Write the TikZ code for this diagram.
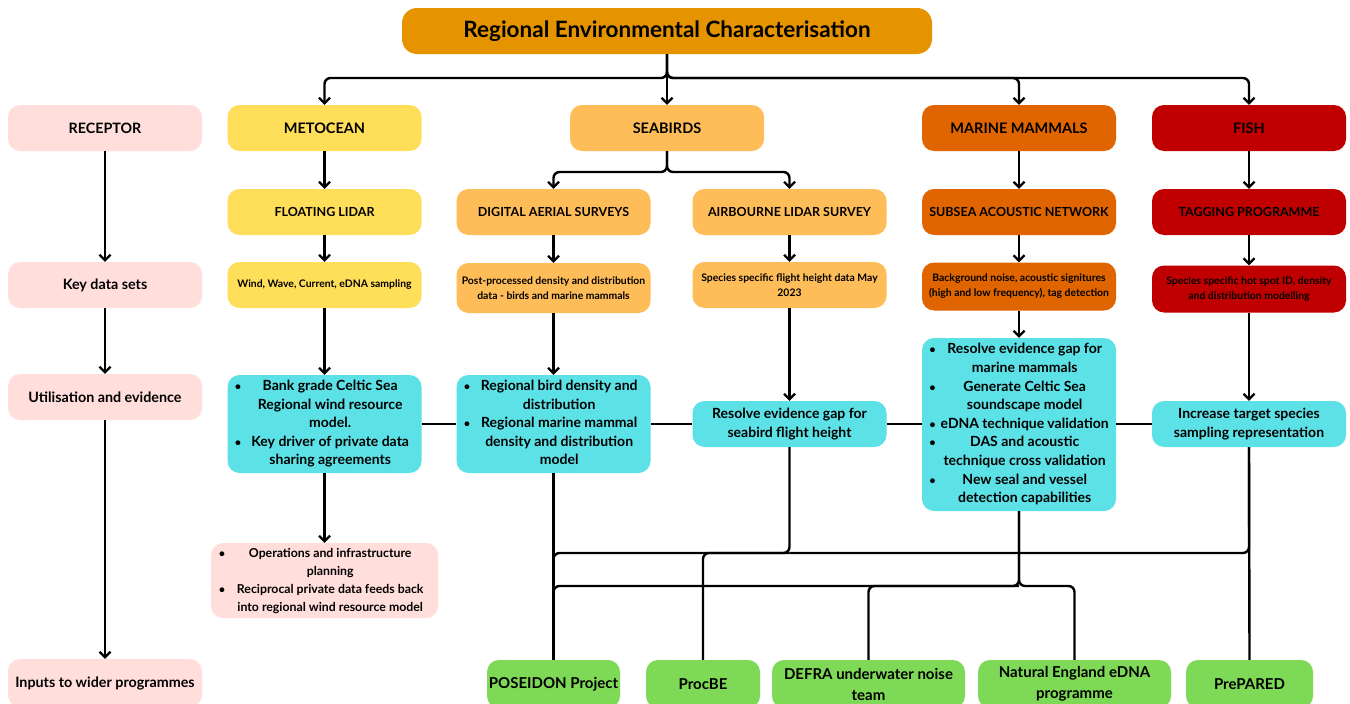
\documentclass[tikz,border=0pt]{standalone}
\usepackage{fontspec}
\setmainfont{Lato}
\usepackage{array}
\usetikzlibrary{arrows.meta}

\definecolor{titlec}{HTML}{E59400}
\definecolor{pinkc}{HTML}{FFDEDB}
\definecolor{metc}{HTML}{FFDE59}
\definecolor{birdc}{HTML}{FFBD59}
\definecolor{mamc}{HTML}{E06500}
\definecolor{fishc}{HTML}{C00000}
\definecolor{cyanc}{HTML}{5CE1E6}
\definecolor{greenc}{HTML}{7ED957}

% bullet list: bullet column, gap, centred text column
\newenvironment{blist}[2]{\begin{tabular}{@{}l@{\hspace{#1}}>{\centering\arraybackslash}p{#2}@{}}}{\end{tabular}}
\newcommand{\bdot}{{\fontsize{11}{11}\selectfont\textbullet}}

\begin{document}
\begin{tikzpicture}[x=1pt,y=-1pt,
  box/.style={rounded corners=12pt, minimum width=194pt, minimum height=46pt,
    align=center, inner sep=1pt, text=black},
  cat/.style={box, font=\bfseries\fontsize{14.5}{17}\selectfont},
  sub/.style={box, font=\bfseries\fontsize{12.5}{15}\selectfont},
  data/.style={box, font=\bfseries\fontsize{10.4}{15}\selectfont},
  use/.style={box, fill=cyanc, font=\bfseries\fontsize{14}{18.6}\selectfont},
  recv/.style={box, fill=pinkc, font=\bfseries\fontsize{14.3}{17}\selectfont},
  prog/.style={box, fill=greenc, minimum height=48pt, font=\bfseries\fontsize{15}{21}\selectfont},
  conn/.style={line width=2.4pt, rounded corners=6pt},
  arr/.style={conn, -{Straight Barb[length=5.5pt,width=11pt,line width=2.2pt]}}]

\useasboundingbox (0,0) rectangle (1350,704);
\fill[white] (0,0) rectangle (1350,704);

% title
\node[box, fill=titlec, minimum width=530pt, rounded corners=15pt,
  font=\bfseries\fontsize{22.5}{26}\selectfont] (title) at (667,31) {Regional Environmental Characterisation};

% receptor column
\node[recv] (rec)  at (105,128) {RECEPTOR};
\node[recv] (key)  at (105,285) {Key data sets};
\node[recv] (util) at (105,397) {Utilisation and evidence};
\node[recv, minimum height=48pt] (inp)  at (105,683) {Inputs to wider programmes};

% receptor categories
\node[cat, fill=metc]  (met)  at (324.5,128) {METOCEAN};
\node[cat, fill=birdc] (seab) at (667,128)   {SEABIRDS};
\node[cat, fill=mamc]  (mam)  at (1019,128)  {MARINE MAMMALS};
\node[cat, fill=fishc] (fish) at (1249,128)  {FISH};

% data collection
\node[sub, fill=metc]  (lidar) at (324.5,212) {FLOATING LIDAR};
\node[sub, fill=birdc] (dig)   at (553.5,212) {DIGITAL AERIAL SURVEYS};
\node[sub, fill=birdc] (air)   at (789.5,212) {AIRBOURNE LIDAR SURVEY};
\node[sub, fill=mamc]  (sub)   at (1019,212)  {SUBSEA ACOUSTIC NETWORK};
\node[sub, fill=fishc] (tag)   at (1249,212)  {TAGGING PROGRAMME};

% key data sets
\node[data, fill=metc] (metD) at (324.5,285) {Wind, Wave, Current, eDNA sampling};
\node[data, fill=birdc, minimum height=50pt] (digD) at (553.5,288) {Post-processed density and distribution\\data - birds and marine mammals};
\node[data, fill=birdc] (airD) at (789.5,285) {Species specific flight height data May\\2023};
\node[data, fill=mamc, minimum height=48pt] (mamD) at (1019,286.5) {Background noise, acoustic signitures\\(high and low frequency), tag detection};
\node[data, fill=fishc, minimum height=47pt] (fishD) at (1249,289) {Species specific hot spot ID, density\\and distribution modelling};

% utilisation and evidence
\node[use, minimum height=98pt] (metU) at (324.5,424) {\begin{blist}{5pt}{168pt}
\bdot & Bank grade Celtic Sea\\
 & Regional wind resource\\
 & model.\\
\bdot & Key driver of private data\\
 & sharing agreements
\end{blist}};
\node[use, minimum height=98pt] (birdU) at (553.5,424) {\begin{blist}{5pt}{168pt}
\bdot & Regional bird density and\\
 & distribution\\
\bdot & Regional marine mammal\\
 & density and distribution\\
 & model
\end{blist}};
\node[use] (airU) at (789.5,424) {Resolve evidence gap for\\seabird flight height};
\node[use, minimum height=173pt] (mamU) at (1019,424.5) {\begin{blist}{5pt}{168pt}
\bdot & Resolve evidence gap for\\
 & marine mammals\\
\bdot & Generate Celtic Sea\\
 & soundscape model\\
\bdot & eDNA technique validation\\
\bdot & DAS and acoustic\\
 & technique cross validation\\
\bdot & New seal and vessel\\
 & detection capabilities
\end{blist}};
\node[use] (fishU) at (1249,424) {Increase target species\\sampling representation};

% downstream use of the wind model
\node[recv, minimum width=227pt, minimum height=75pt,
  font=\bfseries\fontsize{12.3}{18}\selectfont] (ops) at (324.5,580.5) {\begin{blist}{5pt}{200pt}
\bdot & Operations and infrastructure\\
 & planning\\
\bdot & Reciprocal private data feeds back\\
 & into regional wind resource model
\end{blist}};

% wider programmes
\node[prog, minimum width=133pt] (pos)  at (553.5,684)  {POSEIDON Project};
\node[prog, minimum width=114pt] (proc) at (703,684)    {ProcBE};
\node[prog, minimum width=193pt] (defra) at (868.5,684) {DEFRA underwater noise\\team};
\node[prog, minimum width=193pt] (ne)   at (1074.5,684) {Natural England eDNA\\programme};
\node[prog, minimum width=127pt] (prep) at (1249.5,684) {PrePARED};

% branching levels
\coordinate (tj) at (0,78);
\coordinate (sj) at (0,172);
\coordinate (b1) at (0,553);
\coordinate (b2) at (0,586);

% title to categories
\draw[arr] (title.south) -- (seab.north);
\draw[arr] (title.south) |- (met.north |- tj) -- (met.north);
\draw[arr] (title.south) |- (mam.north |- tj) -- (mam.north);
\draw[arr] (title.south) |- (fish.north |- tj) -- (fish.north);

% receptor column
\draw[arr] (rec.south) -- (key.north);
\draw[arr] (key.south) -- (util.north);
\draw[arr] (util.south) -- (inp.north);

% metocean chain
\draw[arr] (met.south) -- (lidar.north);
\draw[arr] (lidar.south) -- (metD.north);
\draw[arr] (metD.south) -- (metU.north);
\draw[arr] (metU.south) -- (ops.north);

% seabird chains
\draw[arr] (seab.south) |- (dig.north |- sj) -- (dig.north);
\draw[arr] (seab.south) |- (air.north |- sj) -- (air.north);
\draw[arr] (dig.south) -- (digD.north);
\draw[arr] (digD.south) -- (birdU.north);
\draw[arr] (air.south) -- (airD.north);
\draw[arr] (airD.south) -- (airU.north);

% marine mammal chain
\draw[arr] (mam.south) -- (sub.north);
\draw[arr] (sub.south) -- (mamD.north);
\draw[arr] (mamD.south) -- (mamU.north);

% fish chain
\draw[arr] (fish.south) -- (tag.north);
\draw[arr] (tag.south) -- (fishD.north);
\draw[arr] (fishD.south) -- (fishU.north);

% links across the evidence row
\draw[conn] (metU.east) -- (birdU.west);
\draw[conn] (birdU.east) -- (airU.west);
\draw[conn] (airU.east) -- (airU.east -| mamU.west);
\draw[conn] (mamU.east |- fishU.west) -- (fishU.west);

% feeds into wider programmes
\draw[conn] (birdU.south) -- (pos.north);
\draw[conn] (fishU.south) -- (prep.north);
\draw[conn] (airU.south) |- (birdU.south |- b1) -- ++(0,20);
\draw[conn] (fishU.south) |- (airU.south |- b1);
\draw[conn] (proc.north) |- (airU.south |- b1);
\draw[conn] (mamU.south) |- (ne.north |- b2) -- (ne.north);
\draw[conn] (mamU.south) |- (birdU.south |- b2) -- ++(0,20);
\draw[conn] (defra.north) |- (mamU.south |- b2);
\end{tikzpicture}
\end{document}
